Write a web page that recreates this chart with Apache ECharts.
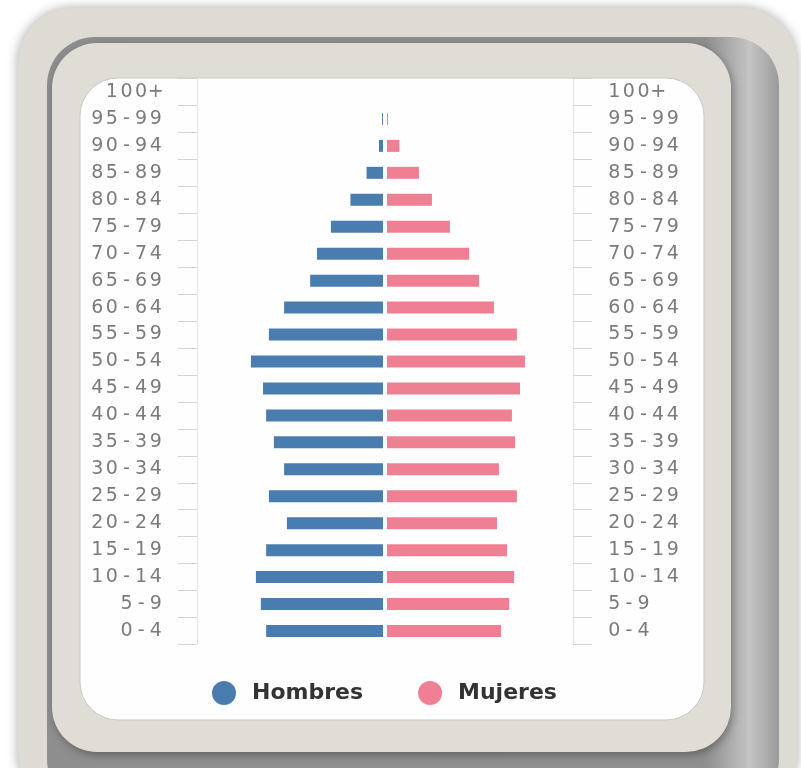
<!DOCTYPE html>
<html>
<head>
<meta charset="utf-8">
<title>Pirámide de población</title>
<script src="https://cdn.jsdelivr.net/npm/echarts@6.0.0/dist/echarts.min.js"></script>
<style>
  html, body { margin: 0; padding: 0; background: #fff; }
  #chart { width: 801px; height: 768px; }
</style>
</head>
<body>
<div id="chart"></div>
<script>
// grupos de edad, de abajo hacia arriba
const ages = ['0-4', '5-9', '10-14', '15-19', '20-24', '25-29', '30-34', '35-39', '40-44', '45-49',
  '50-54', '55-59', '60-64', '65-69', '70-74', '75-79', '80-84', '85-89', '90-94', '95-99', '100+']
// % de la población
const hombres = [3.77, 3.94, 4.10, 3.77, 3.10, 3.68, 3.19, 3.52, 3.77, 3.87,
  4.26, 3.68, 3.19, 2.35, 2.13, 1.68, 1.05, 0.53, 0.13, 0.03, 0]
const mujeres = [3.68, 3.94, 4.10, 3.87, 3.55, 4.19, 3.61, 4.13, 4.03, 4.29,
  4.45, 4.19, 3.45, 2.97, 2.65, 2.03, 1.45, 1.03, 0.40, 0.03, 0]
const seriesNames = ['Hombres', 'Mujeres']
const valueMax = 6

const blue = '#4a7daf'
const pink = '#ef8094'
const labelColor = '#7b7b7b'
const axisColor = '#e1e6ec'

// cada carácter en su propia celda para imitar el espaciado ancho del original
function spaced(v) {
  return String(v).split('').map(c => '{c|' + c + '}').join('')
}
const labelRich = {
  c: { width: 14.6, align: 'center', fontSize: 19, color: labelColor, fontFamily: 'DejaVu Sans' }
}

function catAxis(gridIndex, position) {
  return {
    type: 'category',
    gridIndex,
    position,
    data: ages,
    axisLine: { show: true, onZero: false, lineStyle: { color: axisColor, width: 1 } },
    axisTick: { show: true, length: 19, lineStyle: { color: '#d4d4d4', width: 1 } },
    axisLabel: { margin: 34, formatter: spaced, rich: labelRich }
  }
}

const myEcharts = echarts.init(document.getElementById('chart'))
const option = {
  animation: false,
  backgroundColor: '#fff',
  // marco decorativo
  graphic: [
    {
      type: 'rect', z: -10, silent: true,
      shape: { x: 18, y: 8, width: 779, height: 800, r: 55 },
      style: { fill: '#dddbd3', shadowBlur: 12, shadowColor: 'rgba(0,0,0,0.35)' }
    },
    {
      type: 'rect', z: -9, silent: true,
      shape: { x: 47, y: 37, width: 732, height: 770, r: 48 },
      style: {
        fill: new echarts.graphic.LinearGradient(0, 0, 1, 0, [
          { offset: 0, color: '#8e8e8e' },
          { offset: 0.9, color: '#8f8f8f' },
          { offset: 0.96, color: '#c4c4c4' },
          { offset: 1, color: '#9a9a9a' }
        ])
      }
    },
    {
      type: 'rect', z: -8, silent: true,
      shape: { x: 52, y: 43, width: 679, height: 709, r: 45 },
      style: { fill: '#dfddd6', shadowBlur: 8, shadowColor: 'rgba(0,0,0,0.3)', shadowOffsetX: 2, shadowOffsetY: 3 }
    },
    {
      type: 'rect', z: -7, silent: true,
      shape: { x: 80, y: 78, width: 624, height: 642, r: 38 },
      style: { fill: '#fefefe', stroke: '#c9c9c9', lineWidth: 1 }
    }
  ],
  legend: {
    data: seriesNames,
    left: 207,
    top: 676,
    icon: 'circle',
    itemWidth: 24,
    itemHeight: 24,
    itemGap: 55,
    textStyle: {
      fontFamily: 'DejaVu Sans',
      fontSize: 22,
      fontWeight: 'bold',
      color: '#333',
      padding: [0, 0, 0, 11]
    }
  },
  grid: [
    { left: 197, top: 78.5, width: 186, height: 566 },
    { left: 387, top: 78.5, width: 186, height: 566 }
  ],
  xAxis: [
    { type: 'value', gridIndex: 0, inverse: true, min: 0, max: valueMax, show: false },
    { type: 'value', gridIndex: 1, min: 0, max: valueMax, show: false }
  ],
  yAxis: [
    catAxis(0, 'left'),
    catAxis(1, 'right')
  ],
  series: [
    {
      name: seriesNames[0],
      type: 'bar',
      xAxisIndex: 0,
      yAxisIndex: 0,
      barWidth: 12,
      itemStyle: { color: blue },
      data: hombres
    },
    {
      name: seriesNames[1],
      type: 'bar',
      xAxisIndex: 1,
      yAxisIndex: 1,
      barWidth: 12,
      itemStyle: { color: pink },
      data: mujeres
    }
  ]
}
myEcharts.setOption(option)
</script>
</body>
</html>
